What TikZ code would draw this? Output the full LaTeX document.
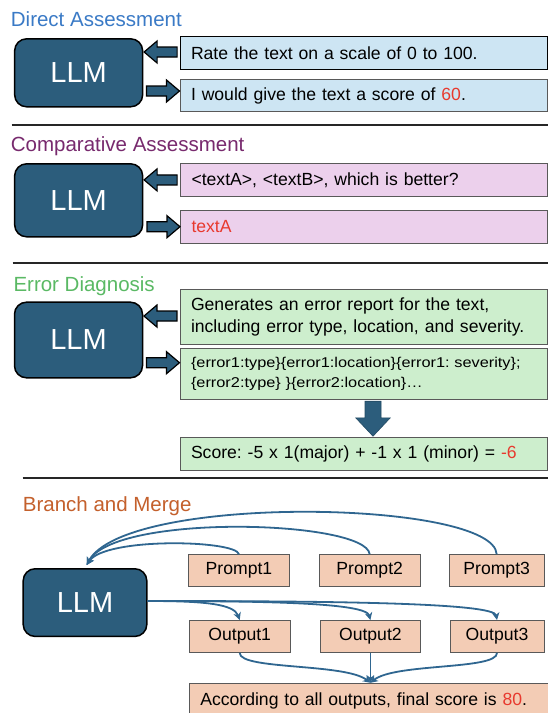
\documentclass[tikz,border=0pt]{standalone}
\usepackage{fontspec}
\setmainfont{Liberation Sans}
\newfontfamily\bracefont[FakeStretch=1.15]{Liberation Sans}
\usetikzlibrary{arrows.meta,calc}
\definecolor{llmblue}{HTML}{2C5D7C}
\definecolor{curveblue}{HTML}{2F6690}
\definecolor{ttblue}{HTML}{3A7AC6}
\definecolor{ttpurple}{HTML}{782A6E}
\definecolor{ttgreen}{HTML}{5AB964}
\definecolor{ttorange}{HTML}{C4602C}
\definecolor{fblue}{HTML}{CDE5F3}
\definecolor{fpink}{HTML}{ECD0EC}
\definecolor{fgreen}{HTML}{CDEECD}
\definecolor{fpeach}{HTML}{F3CCB5}
\definecolor{scorered}{HTML}{E8392E}
\frenchspacing
\begin{document}
\begin{tikzpicture}[x=1pt,y=-1pt,
  title/.style={anchor=base west,inner sep=0pt,font=\fontsize{20.5}{24}\selectfont},
  llm/.style={draw=black,line width=1.5pt,fill=llmblue,rounded corners=12pt,text=white,
    font=\fontsize{29}{32}\selectfont,inner sep=0pt},
  tbox/.style={draw=black!65,line width=1pt,text width=345pt,align=left,inner xsep=11pt,
    inner ysep=0pt,font=\fontsize{17.6}{21.7}\selectfont},
  sbox/.style={draw=black!65,line width=1pt,fill=fpeach,inner sep=0pt,minimum height=31.5pt,
    font=\fontsize{17.6}{21.7}\selectfont},
  sepline/.style={draw=black!85,line width=2pt},
  curve/.style={draw=curveblue,line width=1.8pt,-{Stealth[length=7.5pt,width=7.5pt]}},
  blockarrow/.style={draw=black,line width=1.2pt,fill=llmblue,line join=miter},
  larrow/.pic={\path[blockarrow] (0,0) -- (13,-11) -- (13,-5) -- (33,-5) -- (33,5) -- (13,5) -- (13,11) -- cycle;},
  rarrow/.pic={\path[blockarrow] (0,0) -- (-13,-11) -- (-13,-5) -- (-33,-5) -- (-33,5) -- (-13,5) -- (-13,11) -- cycle;},
  darrow/.pic={\path[fill=llmblue,draw=llmblue!80!black,line width=0.6pt] (0,0) -- (-17.3,-18.4) -- (-8,-18.4) -- (-8,-35) -- (8,-35) -- (8,-18.4) -- (17.3,-18.4) -- cycle;}
]
\useasboundingbox (0,0) rectangle (548,713);
\clip (0,0) rectangle (548,713);
\fill[white] (0,0) rectangle (548,713);

% ---------- Direct Assessment ----------
\node[title,text=ttblue] (t1) at (10.7,26.7) {Direct Assessment};
\node[llm,minimum width=128pt,minimum height=68pt] (llm1) at (78.65,72.8) {LLM};
\node[tbox,fill=fblue,draw=black,minimum height=32.6pt] (b1a) at (363.5,53) {Rate the text on a scale of 0 to 100.};
\node[tbox,fill=fblue,minimum height=32.4pt] (b1b) at (363.5,95.5) {I would give the text a score of \textcolor{scorered}{60}.};
\pic at ($(llm1.east |- b1a.west)+(0.7,-1)$) {larrow};
\pic at ($(b1b.west)+(0,-4.5)$) {rarrow};
\draw[sepline] (11.7,125) -- (548,125);

% ---------- Comparative Assessment ----------
\node[title,text=ttpurple] (t2) at (10.7,151.7) {Comparative Assessment};
\node[llm,minimum width=128pt,minimum height=73pt] (llm2) at (78.65,200.3) {LLM};
\node[tbox,fill=fpink,minimum height=33.5pt] (b2a) at (364,179.9) {<textA>, <textB>, which is better?};
\node[tbox,fill=fpink,minimum height=32.6pt] (b2b) at (364,227) {\textcolor{scorered}{textA}};
\pic at ($(llm2.east |- b2a.west)+(0.7,0)$) {larrow};
\pic at ($(b2b.west)+(0,-0.3)$) {rarrow};
\draw[sepline] (12.7,262.7) -- (548,262.7);

% ---------- Error Diagnosis ----------
\node[title,text=ttgreen] (t3) at (13.3,291.7) {Error Diagnosis};
\node[llm,minimum width=128pt,minimum height=75.6pt] (llm3) at (78.5,340) {LLM};
\node[tbox,fill=fgreen,minimum height=54.7pt] (b3a) at (363.5,316.65) {Generates an error report for the text,\\including error type, location, and severity.};
\node[tbox,fill=fgreen,minimum height=51pt,font=\bracefont\fontsize{14.2}{20}\selectfont] (b3b) at (363.5,373.8) {\{error1:type\}\{error1:location\}\{error1: severity\};\\\{error2:type\} \}\{error2:location\}…};
\node[tbox,fill=fgreen,minimum height=32.7pt] (b3c) at (363.5,453.65) {Score: -5 x 1(major) + -1 x 1 (minor) = \textcolor{scorered}{-6}};
\pic at ($(llm3.east |- b3a.west)+(0.7,-0.6)$) {larrow};
\pic at ($(b3b.west)+(0,-11.1)$) {rarrow};
\pic at ($(b3c.north)+(9.5,-0.6)$) {darrow};
\draw[sepline] (22.7,478.3) -- (548,478.3);

% ---------- Branch and Merge ----------
\node[title,text=ttorange] (t4) at (22.7,511.7) {Branch and Merge};
\node[llm,minimum width=123.6pt,minimum height=67.7pt] (llm4) at (85,602.6) {LLM};
\node[sbox,minimum width=101pt] (p1) at (239,570.5) {Prompt1};
\node[sbox,minimum width=101pt] (p2) at (369.7,570.5) {Prompt2};
\node[sbox,minimum width=94.7pt] (p3) at (496.7,570.5) {Prompt3};
\node[sbox,minimum width=100.7pt,minimum height=32pt] (o1) at (239.7,636.5) {Output1};
\node[sbox,minimum width=100.7pt,minimum height=32pt] (o2) at (370.4,636.5) {Output2};
\node[sbox,minimum width=94pt,minimum height=32pt] (o3) at (497,636.5) {Output3};
\node[tbox,fill=fpeach,text width=348.7pt,minimum height=36pt] (fin) at (374.65,701.3) {According to all outputs, final score is \textcolor{scorered}{80}.};
\coordinate (tip) at ($(llm4.north)+(1.7,-3)$);

\draw[curve] (p1.north) .. controls (236,540) and (105,537) .. (tip);
\draw[curve] (p2.north) .. controls (366,520) and (115,513) .. (tip);
\draw[curve] (p3.north) .. controls (494,500) and (125,493) .. (tip);

\draw[curve] ($(llm4.east)+(0,-1.6)$) .. controls (205,601) and (234,604) .. (o1.north);
\draw[curve] ($(llm4.east)+(0,-1.6)$) .. controls (270,601) and (366,603) .. (o2.north);
\draw[curve] ($(llm4.east)+(0,-1.6)$) .. controls (340,601) and (494,603) .. (o3.north);

\draw[curve] (o1.south) .. controls (240,670) and (345,663) .. (fin.north -| o2.south);
\draw[curve] (o2.south) -- (fin.north -| o2.south);
\draw[curve] (o3.south) .. controls (497,670) and (395,663) .. (fin.north -| o2.south);
\end{tikzpicture}
\end{document}
